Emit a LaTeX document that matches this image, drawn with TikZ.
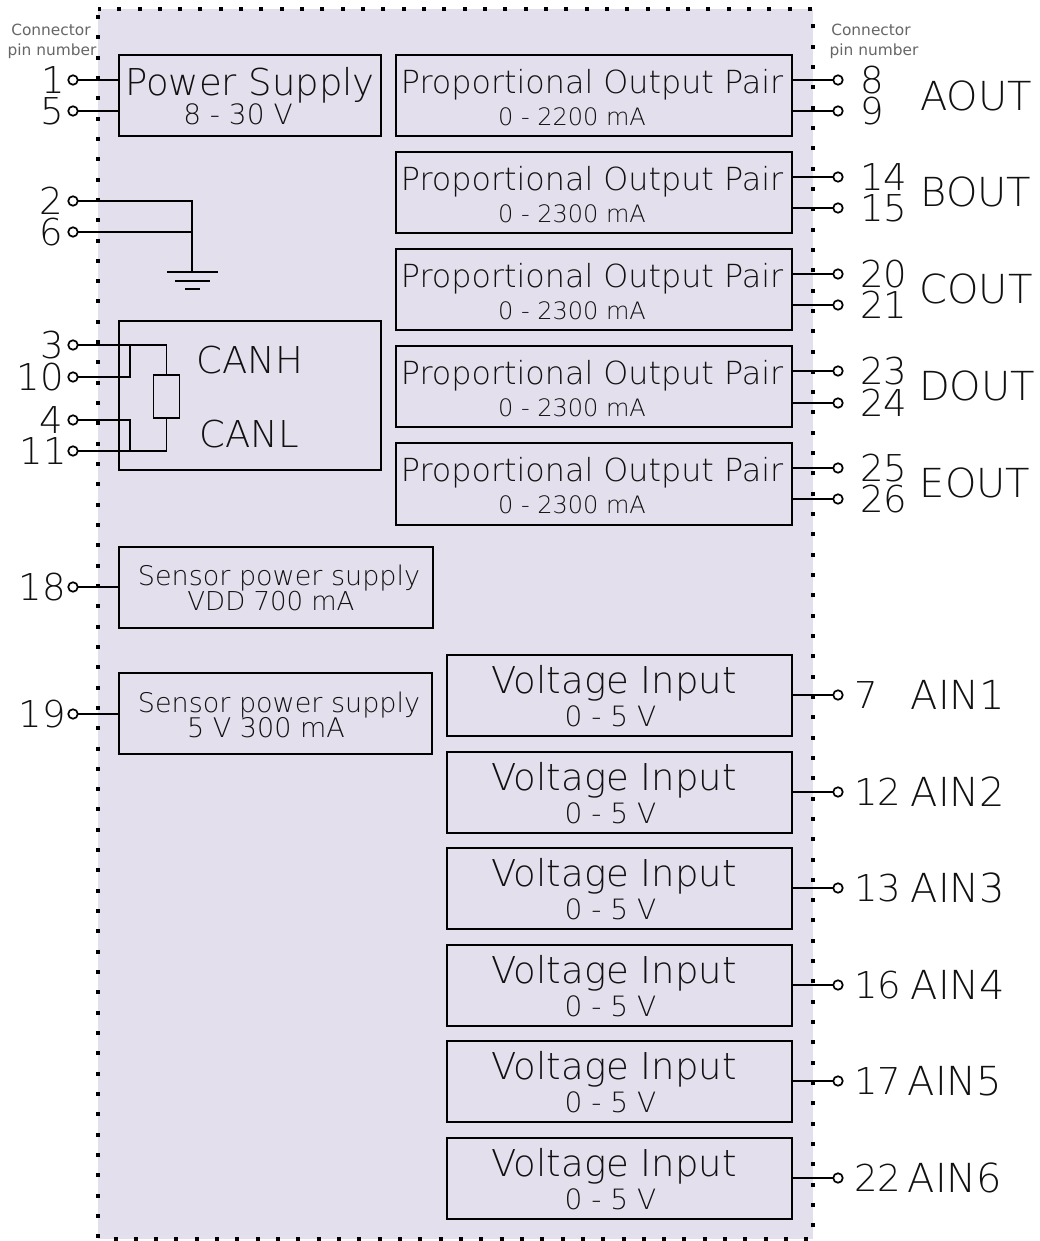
\documentclass[tikz,border=0pt]{standalone}
\usepackage{fontspec}
\setmainfont{DejaVu Sans ExtraLight}
\newfontfamily\regfont{DejaVu Sans}
\definecolor{panel}{HTML}{E4DFEC}
\definecolor{ink}{HTML}{111111}
\definecolor{soft}{HTML}{666666}
\newcommand{\fs}[1]{\fontsize{#1}{#1}\selectfont}
\tikzset{
  x=1pt,y=-1pt,
  wire/.style={draw=black,line width=1.9pt},
  blockbox/.style={draw=black,line width=1.9pt,inner sep=0pt,outer sep=0pt,anchor=north west},
  pin/.style={circle,draw=black,line width=1.7pt,fill=none,inner sep=0pt,outer sep=0pt,minimum size=9.5pt},
  lab/.style={inner sep=0pt,text=ink},
  num/.style={lab,font=\fs{37}},
  sig/.style={lab,font=\fs{40}},
  big/.style={lab,font=\fs{37}},
  small/.style={lab,font=\fs{24}},
  captext/.style={lab,font=\regfont\fs{15.4},text=soft}
}
\newcommand{\blk}[5]{\node[blockbox,minimum width=#4pt,minimum height=#5pt] (#1) at (#2,#3) {};}
\newcommand{\pinL}[4]{%name y number textx
  \node[pin] (#1) at (73,#2) {};
  \node[num,anchor=east] at (#4,#2) {#3};}
\newcommand{\pinR}[4]{%
  \node[pin] (#1) at (838,#2) {};
  \node[num,anchor=west] at (#4,#2) {#3};}
\begin{document}
\begin{tikzpicture}
\useasboundingbox (0,0) rectangle (1039,1241);
\fill[panel] (98,9) rectangle (813,1239);
\draw[line width=4pt,dash pattern=on 4pt off 16.32pt] (98,15) -- (98,1239) -- (813,1239) -- (813,9) -- (98,9);

\node[captext] at (51,30) {Connector};
\node[captext] at (52,51) {pin number};
\node[captext] at (871,30) {Connector};
\node[captext] at (874,51) {pin number};

% blocks
\blk{ps}{119}{55}{262}{81}
\blk{pa}{396}{55}{396}{81}
\blk{pb}{396}{152}{396}{81}
\blk{pc}{396}{249}{396}{81}
\blk{pd}{396}{346}{396}{81}
\blk{pe}{396}{443}{396}{82}
\blk{can}{119}{321}{262}{149}
\blk{sa}{119}{547}{314}{81}
\blk{sb}{119}{673}{313}{81}
\blk{va}{447}{655}{345}{81}
\blk{vb}{447}{752}{345}{81}
\blk{vc}{447}{848}{345}{81}
\blk{vd}{447}{945}{345}{81}
\blk{ve}{447}{1041}{345}{81}
\blk{vf}{447}{1138}{345}{81}

% block texts
\node[big] at (250,85) {Power Supply};
\node[small,font=\fs{28}] at (238,114) {8 - 30 V};
\foreach \n/\y/\c in {pa/85/0 - 2200 mA,pb/182/0 - 2300 mA,pc/279/0 - 2300 mA,pd/376/0 - 2300 mA,pe/473/0 - 2300 mA}{
  \node[lab,font=\fs{31.8}] at (592,\y) {Proportional Output Pair};
  \pgfmathsetmacro{\yy}{\y+32}
  \node[small] at (572,\yy) {\c};
}
\foreach \y in {683,780,876,973,1069,1166}{
  \node[lab,font=\fs{37}] at (614,\y) {Voltage Input};
  \pgfmathsetmacro{\yy}{\y+33}
  \node[small,font=\fs{28}] at (610.5,\yy) {0 - 5 V};
}
\node[lab,font=\fs{27}] at (279,578) {Sensor power supply};
\node[lab,font=\fs{26}] at (271,601) {VDD 700 mA};
\node[lab,font=\fs{27}] at (279,705) {Sensor power supply};
\node[lab,font=\fs{27}] at (266,728) {5 V 300 mA};
\node[lab,font=\fs{37}] (canh) at (250,360) {CANH};
\node[lab,font=\fs{37}] (canl) at (249,434) {CANL};

% left pins
\pinL{p1}{80}{1}{65}
\pinL{p5}{111}{5}{64}
\pinL{p2}{201}{2}{63}
\pinL{p6}{232}{6}{63}
\pinL{p3}{345}{3}{64}
\pinL{p10}{377}{10}{64}
\pinL{p4}{420}{4}{63}
\pinL{p11}{451}{11}{67}
\pinL{p18}{587}{18}{66}
\pinL{p19}{714}{19}{66}

\draw[wire] (p1.east) -- (p1.east -| ps.west);
\draw[wire] (p5.east) -- (p5.east -| ps.west);
\coordinate (gnd) at (192,272);
\draw[wire] (p2.east) -- (p2.east -| gnd) -- (gnd);
\draw[wire] (p6.east) -- (p6.east -| gnd);
\draw[wire] (167,272) -- (218,272);
\draw[wire] (175,281) -- (210,281);
\draw[wire] (185,289) -- (200,289);

% CAN
\node[draw=black,line width=1.9pt,inner sep=0pt,outer sep=0pt,minimum width=26pt,minimum height=43pt,anchor=north west] (res) at (153.5,375) {};
\draw[wire] (p3.east) -- (p3.east -| res.north) -- (res.north);
\draw[wire] (p10.east) -- (130,377) -- (130,345);
\draw[wire] (p4.east) -- (130,420) -- (130,451);
\draw[wire] (p11.east) -- (p11.east -| res.south) -- (res.south);

\draw[wire] (p18.east) -- (p18.east -| sa.west);
\draw[wire] (p19.east) -- (p19.east -| sb.west);

% right pins
\pinR{p8}{80}{8}{860}
\pinR{p9}{111}{9}{860}
\pinR{p14}{177}{14}{860}
\pinR{p15}{208}{15}{860}
\pinR{p20}{274}{20}{860}
\pinR{p21}{305}{21}{860}
\pinR{p23}{371}{23}{860}
\pinR{p24}{403}{24}{860}
\pinR{p25}{468}{25}{860}
\pinR{p26}{499}{26}{860}
\pinR{p7}{695}{7}{854}
\pinR{p12}{792}{12}{854}
\pinR{p13}{888}{13}{854}
\pinR{p16}{985}{16}{854}
\pinR{p17}{1081}{17}{854}
\pinR{p22}{1178}{22}{854}
\foreach \a/\b in {p8/pa,p9/pa,p14/pb,p15/pb,p20/pc,p21/pc,p23/pd,p24/pd,p25/pe,p26/pe,p7/va,p12/vb,p13/vc,p16/vd,p17/ve,p22/vf}
  \draw[wire] (\a.west) -- (\a.west -| \b.east);

\foreach \t/\x/\y in {AOUT/976/96,BOUT/976/192,COUT/976/289,DOUT/977/386,EOUT/975/483,AIN1/958/695,AIN2/958/792,AIN3/958/888,AIN4/958/985,AIN5/955/1081,AIN6/955/1178}
  \node[sig] at (\x,\y) {\t};
\end{tikzpicture}
\end{document}
